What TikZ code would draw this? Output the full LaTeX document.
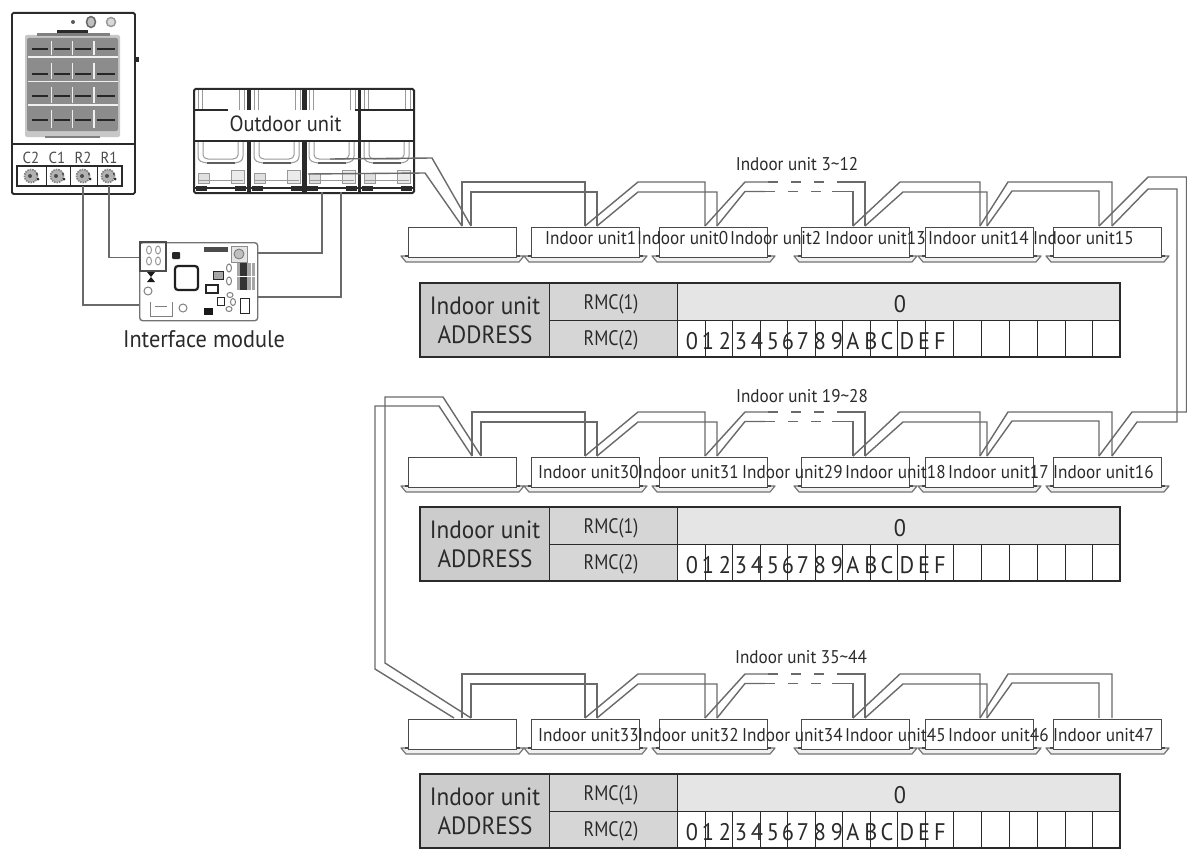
\documentclass[tikz,border=0pt]{standalone}
\usepackage{fontspec}
\setmainfont[FakeStretch=0.93]{PT Sans}
\newfontfamily\rmcfont[FakeStretch=0.85]{PT Sans}
\usetikzlibrary{calc}
\definecolor{wirec}{HTML}{6A6A6A}
\definecolor{ink}{HTML}{2A2A2A}
\tikzset{
  wire/.style={draw=wirec,line width=1.4pt,line join=miter},
  wirelite/.style={draw=wirec,line width=1.3pt,dash pattern=on 10pt off 13pt},
  unitb/.style={draw=ink!85,line width=1.4pt,fill=white,minimum width=108pt,minimum height=30pt,inner sep=0pt,anchor=north west},
  tray/.style={draw=black!55,line width=1.2pt,fill=black!6,line join=round},
  ulabel/.style={text=ink,font=\fontsize{18.5}{21}\selectfont,inner sep=0pt,anchor=west},
  toplabel/.style={text=ink,font=\fontsize{18.4}{20}\selectfont,inner sep=0pt},
  biglabel/.style={text=ink,font=\fontsize{25}{28}\selectfont,inner sep=0pt},
  midlabel/.style={text=ink,font=\rmcfont\fontsize{21}{24}\selectfont,inner sep=0pt},
  digit/.style={text=ink,font=\fontsize{24}{26}\selectfont,inner sep=0pt},
  tline/.style={draw=ink,line width=1pt},
  tframe/.style={draw=ink,line width=2pt},
  odline/.style={draw=ink,line width=1.3pt},
  odlite/.style={draw=black!40,line width=1pt},
  pcb/.style={draw=black!85,line width=1pt,fill=white},
  pcbgray/.style={draw=black!50,line width=1pt,fill=white},
  termlabel/.style={text=black!70,font=\fontsize{16}{18}\selectfont,inner sep=0pt},
}
% one indoor unit: name, left x, port offsets
\newcommand{\unitbox}[4]{%
  \draw[tray] (#2-7,256) -- (#2+116,256) -- (#2+111,262) -- (#2-2,262) -- cycle;
  \draw[draw=ink!85,line width=1.4pt] (#2-3,256) -- (#2+112,256);
  \node[unitb] (#1) at (#2,226.5) {};
  \coordinate (#1a) at (#2+#3,226);
  \coordinate (#1b) at (#2+#4,226);
}
% a row of units with wires among them
\newcommand{\unitrow}[3]{%
  \unitbox{#1u0}{408}{#2}{#3}
  \unitbox{#1u1}{531}{54}{66}
  \unitbox{#1u2}{659}{46}{58}
  \unitbox{#1u3}{801}{52}{64}
  \unitbox{#1u4}{925}{55}{62}
  \unitbox{#1u5}{1053}{46}{59}
  \draw[wire] (#1u0a) -- ($(#1u0a)+(0,-44)$) -| (#1u1a);
  \draw[wire] (#1u0b) -- ($(#1u0b)+(0,-34)$) -| (#1u1b);
  \draw[wire] (#1u1a) -- (638,182) -- (705,182) -- (#1u2a);
  \draw[wire] (#1u1b) -- (638,192) -- (717,192) -- (#1u2b);
  \draw[wire] (#1u2a) -- (745,182) -- (768,182);
  \draw[wirelite] (768,182) -- (837,182);
  \draw[wire] (837,182) -- (865,182) -- (#1u3b);
  \draw[wire] (#1u2b) -- (745,191.5) -- (765,191.5);
  \draw[wirelite] (765,191.5) -- (832,191.5);
  \draw[wire] (832,191.5) -- (853,191.5) -- (#1u3a);
  \draw[wire] (#1u3a) -- (900,182) -- (980,182) -- (#1u4a);
  \draw[wire] (#1u3b) -- (903,192) -- (987,192) -- (#1u4b);
  \draw[wire] (#1u4a) -- (1008,182) -- (1112,182) -- (#1u5b);
  \draw[wire] (#1u4b) -- (1012,191) -- (1099,191) -- (#1u5a);
}
% address table: prefix, then y offset comes from the surrounding scope
\newcommand{\addrtable}[1]{%
  \fill[black!20] (420,283) rectangle (549,357);
  \fill[black!16] (549,283) rectangle (677,357);
  \fill[black!10] (677,283) rectangle (1120,320);
  \foreach \v in {677,705,732,760,787,815,842,870,897,925,953,981,1009,1037,1065,1092}
    \draw[tline] (\v,320) -- (\v,357);
  \draw[tline] (549,283) -- (549,357);
  \draw[tline] (549,320) -- (1120,320);
  \draw[tline] (677,283) -- (677,320);
  \draw[tframe] (420,283) rectangle (1120,357);
  \draw[draw=ink,line width=2.6pt] (420,282) -- (420,358);
  \node[biglabel] (#1iu) at (485,306) {Indoor unit};
  \node[biglabel] (#1ad) at (485,335) {ADDRESS};
  \node[midlabel] (#1r1) at (611,304) {RMC(1)};
  \node[midlabel] (#1r2) at (611,340) {RMC(2)};
  \node[digit] (#1zero) at (900,304) {0};
  \foreach \c/\x in {0/692,1/708,2/725,3/741,4/757,5/773,6/788,7/803,8/820,9/837,A/853,B/871,C/887,D/907,E/924,F/940}
    \node[digit] (#1d\c) at (\x,341) {\c};
}
\begin{document}
\begin{tikzpicture}[x=1pt,y=-1pt]
\useasboundingbox (0,0) rectangle (1187,851);
\fill[white] (0,0) rectangle (1187,851);

%% ---------- controller ----------
\node[draw=ink,line width=1.8pt,rounded corners=1.5pt,fill=white,minimum width=123pt,minimum height=181pt,inner sep=0pt,anchor=north west] (ctl) at (11,12) {};
\fill[ink] (134,57) rectangle (139,62);
\draw[line width=1.5pt,draw=ink] (11,144) -- (134,144);
\fill[black!65] (73,22) circle (2pt);
\draw[line width=1.5pt,draw=black!60,fill=black!25] (91,22) ellipse (4.5pt and 5.5pt);
\draw[line width=1.5pt,draw=black!40,fill=black!15] (111,22) circle (4.5pt);
\fill[black!22,rounded corners=2pt] (25,35) rectangle (120,137);
\fill[black!45,rounded corners=2pt] (27,38) rectangle (118,131);
\fill[ink] (57,30.5) rectangle (88,33.5);
\fill[black!50] (37,33) rectangle (110,36);
\fill[black!50] (45,135.5) rectangle (100,138);
\foreach \y in {57,81.5,105} \draw[black!6,line width=1.3pt] (28,\y) -- (118,\y);
\foreach \x/\a/\b in {51.5/41/55,72.5/41/55,94/41/55,51.5/63/79,72.5/63/79,94/63/79,51.5/87/103,72.5/87/103,94/87/103,51.5/110/128,72.5/110/128,94/110/128}
  \draw[black!6,line width=1.5pt] (\x,\a) -- (\x,\b);
\foreach \y in {49,74,96,120}{
  \draw[black!85,line width=2.6pt] (32,\y) -- (48,\y);
  \draw[black!85,line width=2.6pt] (54,\y) -- (70,\y);
  \draw[black!85,line width=2.6pt] (75,\y) -- (91,\y);
  \draw[black!85,line width=2.6pt] (97,\y) -- (115,\y);
}
\draw[draw=ink,line width=1.3pt] (17,166) rectangle (122,186);
\foreach \x in {46,70,97} \draw[draw=ink,line width=1pt] (\x,166) -- (\x,186);
\foreach \x in {31,57,83,108}{
  \draw[draw=black!50,line width=1.6pt,fill=black!30,dash pattern=on 1.5pt off 1pt] (\x,176) circle (6.5pt);
  \fill[black!85] (\x+7,179) circle (1.5pt);
  \fill[black!75] (\x+6,174) circle (1.2pt);
  \fill[black!70] (\x-1,176) circle (2pt);
}
\node[termlabel] (lc2) at (31,158) {C2};
\node[termlabel] (lc1) at (57,158) {C1};
\node[termlabel] (lr2) at (83,158) {R2};
\node[termlabel] (lr1) at (109,158) {R1};
\coordinate (tR2) at (83,186);
\coordinate (tR1) at (109,186);

%% ---------- outdoor unit ----------
\node[draw=ink,line width=2pt,rounded corners=1.5pt,fill=white,minimum width=220pt,minimum height=104pt,inner sep=0pt,anchor=north west] (odu) at (193,88) {};
\foreach \x in {193,249,304,359}{
  \draw[odlite] (\x+5,90) -- (\x+5,110);
  \draw[odlite] (\x+9,90) -- (\x+9,110);
  \draw[odlite] (\x+46,90) -- (\x+46,110);
  \draw[odlite] (\x+51,90) -- (\x+51,110);
  \draw[odlite] (\x+5,141) -- (\x+5,156) .. controls (\x+5,161) and (\x+8,162) .. (\x+14,163) -- (\x+42,163) .. controls (\x+48,162) and (\x+50,160) .. (\x+50,156) -- (\x+50,141);
  \draw[odlite] (\x+10,141) -- (\x+10,155) .. controls (\x+10,157) and (\x+12,159) .. (\x+15,159) -- (\x+40,159) .. controls (\x+43,159) and (\x+45,157) .. (\x+45,155) -- (\x+45,141);
  \draw[odline,draw=ink!75] (\x+14,163) -- (\x+42,163);
  \draw[odlite,fill=black!12] (\x+5,173) rectangle (\x+16,183);
  \draw[odlite,fill=black!8] (\x+38,170) rectangle (\x+51,183);
  \draw[odlite] (\x+5,180) -- (\x+50,180);
  \draw[odline] (\x,188) -- (\x+55,188);
  \fill[ink] (\x+3,186) rectangle (\x+14,191);
  \fill[ink] (\x+42,186) rectangle (\x+53,191);
}
\draw[odline] (193,110) -- (228,110);
\draw[odline] (355,110) -- (413,110);
\draw[odline] (193,141) -- (413,141);
\fill[ink] (247,89) rectangle (251,110);
\fill[ink] (302,89) rectangle (307,110);
\fill[ink] (247,141) rectangle (251,192);
\fill[ink] (302,141) rectangle (307,192);
\fill[ink] (357.5,89) rectangle (360.5,192);
\node[text=ink,font=\fontsize{22}{24}\selectfont,inner sep=0pt] (odl) at (285.5,124) {Outdoor unit};
\coordinate (odA) at (330,159);
\coordinate (odB) at (308,174);
\coordinate (odC) at (322,192);
\coordinate (odD) at (341,192);

%% ---------- interface module ----------
\node[draw=black!55,line width=1.4pt,rounded corners=3pt,fill=white,minimum width=118pt,minimum height=78pt,inner sep=0pt,anchor=north west] (im) at (139,242) {};
\draw[draw=black!70,line width=1.3pt] (140,242) rectangle (166,271);
\foreach \x/\y in {149/250,158/250,149/261,158/261}
  \draw[draw=black!40,line width=1pt] (\x,\y) ellipse (2.5pt and 4pt);
\fill[black!85,rounded corners=1pt] (172,252) rectangle (180,259);
\fill[black!70] (204,247) rectangle (228,252);
\draw[black!45,fill=black!10,line width=1pt] (231,246) rectangle (247,262);
\draw[black!55,fill=black!25,line width=.8pt] (239,254) circle (5pt);
\fill[black!90] (147,272) -- (155,272) -- (151,277) -- (155,282) -- (147,282) -- (151,277) -- cycle;
\draw[pcbgray] (148,291) circle (4pt);
\draw[pcbgray] (183,308) circle (4pt);
\draw[black!50,line width=1pt] (150,302) -- (150,316) -- (172,316) -- (172,302);
\draw[black!50,line width=1pt] (155,306) -- (167,306);
\draw[black!88,line width=2.2pt,rounded corners=3pt,fill=white] (175,266) rectangle (198,290);
\draw[pcb,fill=black!35] (213,271) rectangle (223,279);
\draw[pcbgray] (229,268) ellipse (2.5pt and 4pt);
\draw[pcbgray] (229,281) ellipse (2.5pt and 4pt);
\fill[black!35] (237,263) rectangle (255,290);
\fill[black!80] (240,263) rectangle (247,290);
\draw[white,line width=.8pt] (251,263) -- (251,290);
\draw[white,line width=1pt] (237,276.5) -- (255,276.5);
\draw[pcb,line width=1.2pt] (206,285) rectangle (218,293);
\draw[pcb] (217,297) rectangle (224,305);
\fill[black!90] (204,308) rectangle (213,315);
\draw[pcbgray] (230,295) ellipse (3pt and 2.5pt);
\draw[pcbgray] (233,302) ellipse (2.5pt and 3.5pt);
\draw[pcbgray] (229,309) ellipse (3pt and 2.5pt);
\draw[pcb] (240,298) rectangle (249,313);
\node[text=ink,font=\fontsize{24}{26}\selectfont,inner sep=0pt] (iml) at (204,339) {Interface module};
\coordinate (imA) at (139,257.5);
\coordinate (imB) at (139,305);
\coordinate (imC) at (257,253);
\coordinate (imD) at (257,297);

\draw[wire] (tR1) |- (imA);
\draw[wire] (tR2) |- (imB);
\draw[wire] (imC) -| (odC);
\draw[wire] (imD) -| (odD);

%% ---------- rows of units ----------
\unitrow{A}{54}{63}
\begin{scope}[yshift=-230pt]
  \unitrow{B}{64}{73}
\end{scope}
\begin{scope}[yshift=-492pt]
  \unitrow{C}{54}{63}
\end{scope}

% in from the outdoor unit
\draw[wire] (odA) -- (432,158) -- (Au0b);
\draw[wire] (odB) -- (425,173) -- (Au0a);
% row 1 to row 2, down the right side
\draw[wire] (Au5a) -- (1148,177) -- (1186.5,177) -- (1186.5,412) -- (1132,412) -- (Bu5a);
\draw[wire] (Au5b) -- (1148,189) -- (1177,189) -- (1177,422) -- (1137,422) -- (Bu5b);
% row 2 to row 3, down the left side
\draw[wire] (Bu0b) -- (443,397) -- (385,397) -- (385,663) -- (Cu0b);
\draw[wire] (Bu0a) -- (439,406) -- (375,406) -- (375,669) -- (454,718);

%% ---------- unit labels ----------
\foreach \t/\x in {1/545,0/637,2/730,13/825,14/928,15/1033}
  \node[ulabel] (la\t) at (\x,238) {Indoor unit\t};
\foreach \t/\x in {30/538,31/638,29/742,18/845,17/948,16/1053}
  \node[ulabel] (lb\t) at (\x,472) {Indoor unit\t};
\foreach \t/\x in {33/538,32/638,34/742,45/845,46/948,47/1053}
  \node[ulabel] (lc\t) at (\x,735) {Indoor unit\t};
\node[toplabel] (ta) at (797,164) {Indoor unit 3\char`\~12};
\node[toplabel] (tb) at (802,396) {Indoor unit 19\char`\~28};
\node[toplabel] (tc) at (801,657) {Indoor unit 35\char`\~44};

%% ---------- address tables ----------
\addrtable{Ta}
\begin{scope}[yshift=-224pt]
  \addrtable{Tb}
\end{scope}
\begin{scope}[yshift=-491pt]
  \addrtable{Tc}
\end{scope}
\end{tikzpicture}
\end{document}
